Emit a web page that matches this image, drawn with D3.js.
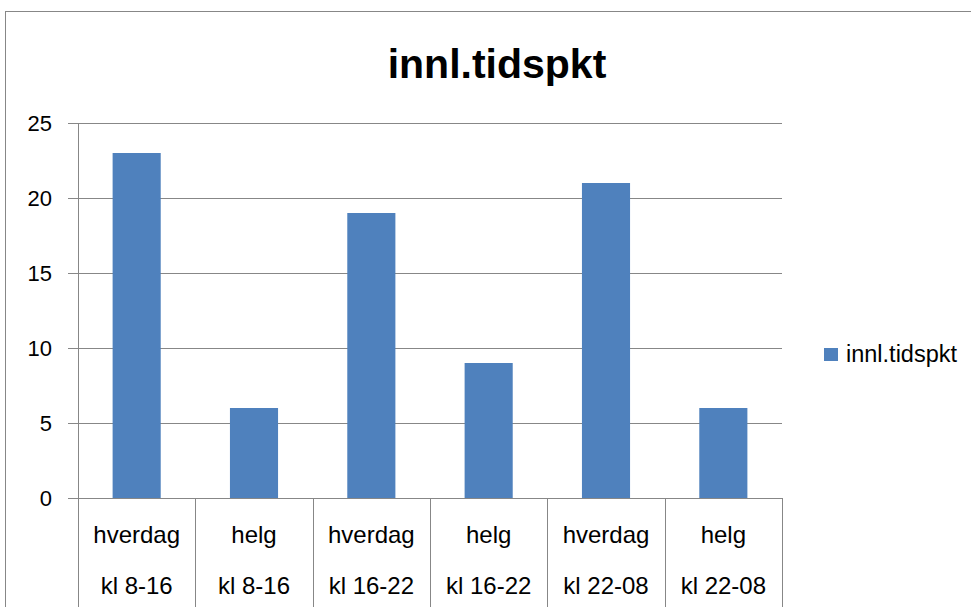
<!DOCTYPE html>
<html><head><meta charset="utf-8">
<script src="https://cdn.jsdelivr.net/npm/d3@7"></script>
<style>body{margin:0;background:#fff}svg{display:block}text{font-family:"Liberation Sans",Arial,sans-serif;fill:#000}</style>
</head><body>
<script>
const title = "innl.tidspkt";
const seriesName = "innl.tidspkt";
const dayLabels = ["hverdag","helg","hverdag","helg","hverdag","helg"];
const timeLabels = ["kl 8-16","kl 8-16","kl 16-22","kl 16-22","kl 22-08","kl 22-08"];
const values = [23, 6, 19, 9, 21, 6];
const yTicks = [0, 5, 10, 15, 20, 25];

(function () {
const W = 971, H = 607;
const svg = d3.select("body").append("svg").attr("width", W).attr("height", H);
const pL = 78, pR = 782, pT = 123, pB = 498;
const grey = "#878787";

svg.append("rect").attr("x",5.5).attr("y",11.5).attr("width",W+10).attr("height",H+10)
  .attr("fill","none").attr("stroke",grey).attr("stroke-width",1);

const cats = d3.range(values.length);
const x = d3.scaleBand().domain(cats).range([pL, pR]).paddingInner(0.59).paddingOuter(0.295);
const xb = d3.scaleBand().domain(cats).range([pL, pR]);
const y = d3.scaleLinear().domain([0, 25]).range([pB, pT]);

svg.append("g").selectAll("line").data(yTicks).join("line")
  .attr("x1", pL - 10).attr("x2", pR)
  .attr("y1", d => Math.round(y(d)) + 0.5).attr("y2", d => Math.round(y(d)) + 0.5)
  .attr("stroke", grey).attr("stroke-width", 1);

svg.append("line").attr("x1", pL + 0.5).attr("x2", pL + 0.5).attr("y1", pT).attr("y2", H)
  .attr("stroke", grey);

svg.append("g").selectAll("text").data(yTicks).join("text")
  .attr("x", 52).attr("y", d => y(d) + 8).attr("text-anchor", "end")
  .attr("font-size", 22).text(d => d);

svg.append("g").selectAll("rect").data(values).join("rect")
  .attr("x", (d, i) => x(i)).attr("width", x.bandwidth())
  .attr("y", d => y(d)).attr("height", d => y(0) - y(d))
  .attr("fill", "#4F81BD");

const bounds = cats.map(i => xb(i)).concat([pR]);
svg.append("g").selectAll("line").data(bounds.slice(1)).join("line")
  .attr("x1", d => Math.round(d) + 0.5).attr("x2", d => Math.round(d) + 0.5)
  .attr("y1", pB).attr("y2", H).attr("stroke", grey);

svg.append("g").selectAll("text").data(dayLabels).join("text")
  .attr("x", (d, i) => xb(i) + xb.bandwidth() / 2).attr("y", 543)
  .attr("text-anchor", "middle").attr("font-size", 24).text(d => d);
svg.append("g").selectAll("text").data(timeLabels).join("text")
  .attr("x", (d, i) => xb(i) + xb.bandwidth() / 2).attr("y", 594)
  .attr("text-anchor", "middle").attr("font-size", 24).text(d => d);

svg.append("text").attr("x", 497).attr("y", 78).attr("text-anchor", "middle")
  .attr("font-size", 41).attr("font-weight", "bold").text(title);

svg.append("rect").attr("x", 824).attr("y", 348).attr("width", 14).attr("height", 13).attr("fill", "#4F81BD");
svg.append("text").attr("x", 846).attr("y", 362).attr("font-size", 23.5).text(seriesName);
})();
</script>
</body></html>
